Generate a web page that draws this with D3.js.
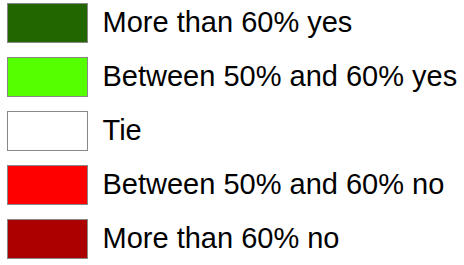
<!DOCTYPE html>
<html>
<head>
<meta charset="utf-8">
<script src="https://cdn.jsdelivr.net/npm/d3@7"></script>
<style>
body { margin: 0; background: #fff; }
</style>
</head>
<body>
<div id="chart"></div>
<script>
var labels = ["More than 60% yes", "Between 50% and 60% yes", "Tie", "Between 50% and 60% no", "More than 60% no"];
var colors = ["#226600", "#55ff00", "#ffffff", "#ff0000", "#aa0000"];

var width = 464, height = 265;

var svg = d3.select("#chart").append("svg")
    .attr("width", width)
    .attr("height", height);

var y = d3.scaleBand()
    .domain(labels)
    .range([3, 259])
    .paddingInner(0.26)
    .paddingOuter(0);

var rows = svg.selectAll("g.row")
    .data(labels)
    .enter().append("g")
    .attr("class", "row")
    .attr("transform", function(d) { return "translate(0," + y(d) + ")"; });

rows.append("rect")
    .attr("x", 7.5)
    .attr("y", 0.5)
    .attr("width", 80)
    .attr("height", y.bandwidth() - 1)
    .style("fill", function(d, i) { return colors[i]; })
    .style("stroke", "#888");

rows.append("text")
    .attr("x", 102.5)
    .attr("y", y.bandwidth() / 2)
    .attr("dy", "0.32em")
    .style("font-family", "Liberation Sans, Arial, sans-serif")
    .style("font-size", "29px")
    .style("fill", "#000")
    .text(function(d) { return d; });
</script>
</body>
</html>
